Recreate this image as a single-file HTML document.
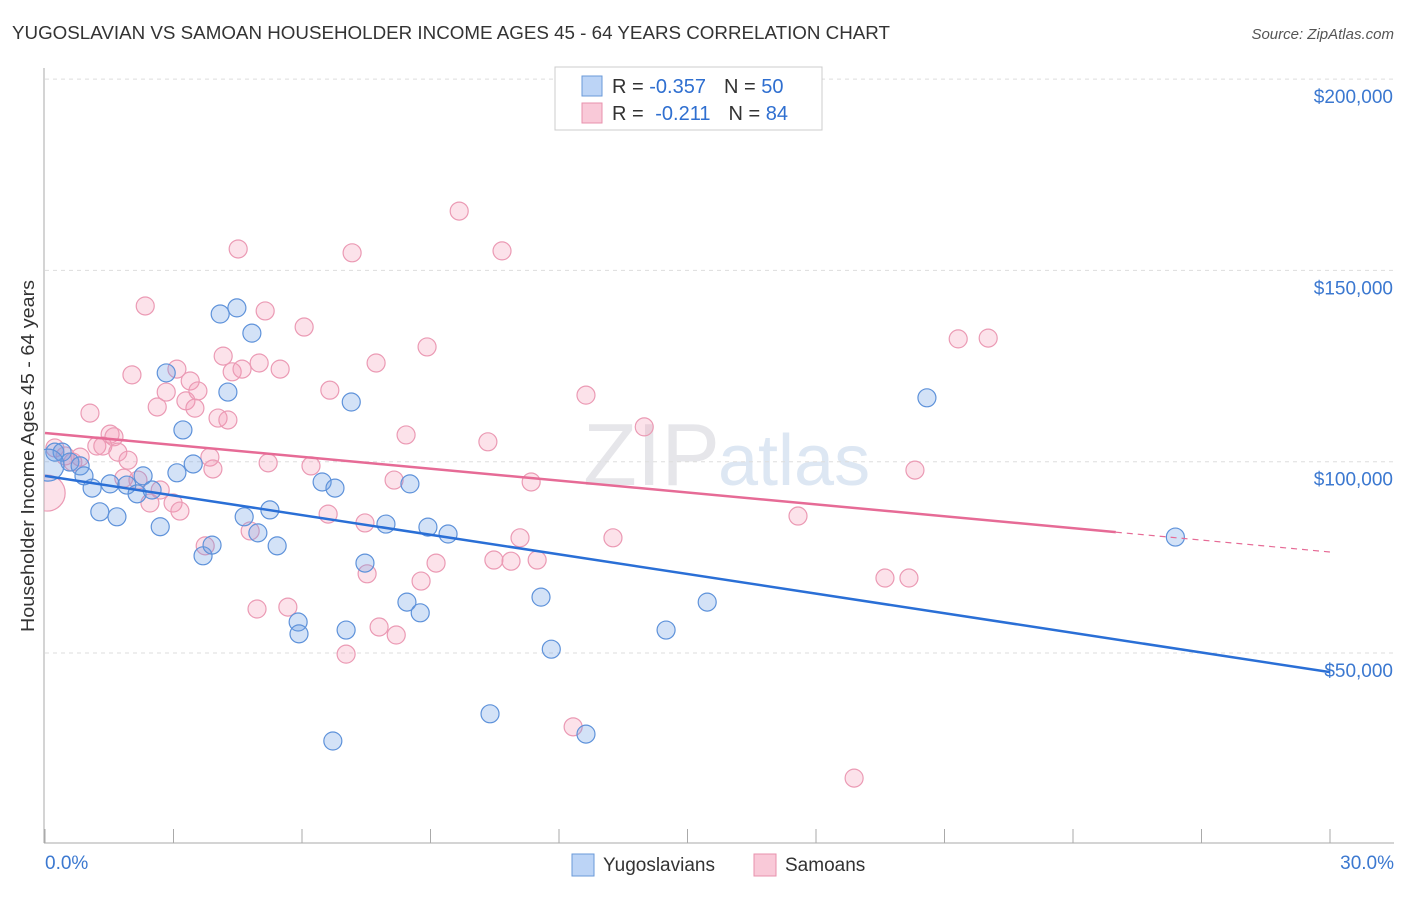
<!DOCTYPE html>
<html><head><meta charset="utf-8"><style>
body{margin:0;background:#fff;font-family:"Liberation Sans",sans-serif;}
svg text{font-family:"Liberation Sans",sans-serif;}
</style></head><body>
<svg id="c" width="1406" height="892">
<defs><clipPath id="pa"><rect x="44" y="60" width="1362" height="783"/></clipPath></defs>
<text x="12" y="39" font-size="18" textLength="878" lengthAdjust="spacingAndGlyphs" fill="#333">YUGOSLAVIAN VS SAMOAN HOUSEHOLDER INCOME AGES 45 - 64 YEARS CORRELATION CHART</text>
<text x="1394" y="39" font-size="15" fill="#555" text-anchor="end" font-style="italic">Source: ZipAtlas.com</text>
<text x="720" y="485" font-size="88" fill="#e6e6ea" text-anchor="end" font-family="Liberation Serif">ZIP</text>
<text x="718" y="485" font-size="72" fill="#dde7f3">atlas</text>
<g id="grid"></g><g id="axes"></g><g id="pts" clip-path="url(#pa)"></g><g id="lines"></g>
<text transform="translate(34,456) rotate(-90)" font-size="18" textLength="352" lengthAdjust="spacingAndGlyphs" fill="#333" text-anchor="middle">Householder Income Ages 45 - 64 years</text>
<g>
<rect x="555" y="67" width="267" height="63" fill="#fff" stroke="#ccc"/>
<rect x="582" y="76" width="20" height="20" fill="#bcd4f6" stroke="#6a9ad8"/>
<rect x="582" y="103" width="20" height="20" fill="#f9c9d8" stroke="#e891ad"/>
<text x="612" y="93" font-size="20" fill="#333">R = <tspan fill="#2f6fd0">-0.357</tspan><tspan dx="18">N = </tspan><tspan fill="#2f6fd0">50</tspan></text>
<text x="612" y="120" font-size="20" fill="#333">R = <tspan dx="6" fill="#2f6fd0">-0.211</tspan><tspan dx="18">N = </tspan><tspan fill="#2f6fd0">84</tspan></text>
</g>
<g>
<rect x="572" y="854" width="22" height="22" fill="#bcd4f6" stroke="#6a9ad8"/>
<text x="603" y="871" font-size="19" fill="#333">Yugoslavians</text>
<rect x="754" y="854" width="22" height="22" fill="#f9c9d8" stroke="#e891ad"/>
<text x="785" y="871" font-size="19" fill="#333">Samoans</text>
</g>
</svg>
<script>
const xTicks=[0,3,6,9,12,15,18,21,24,27,30];
const yTicks=[50000,100000,150000,200000];
const yTickLabels=["$50,000","$100,000","$150,000","$200,000"];
const xEndLabels=["0.0%","30.0%"];
const blueX=[0.23,0.40,0.58,0.82,0.91,1.10,1.28,1.52,1.68,1.91,2.15,2.29,2.50,2.69,2.83,3.08,3.22,3.46,3.69,3.90,4.09,4.27,4.48,4.65,4.83,4.97,5.25,5.42,5.91,5.93,6.47,6.77,7.03,6.72,7.15,7.47,7.96,8.45,8.52,8.76,8.94,9.41,10.39,11.58,11.82,12.63,14.50,15.46,20.59,26.39,0.07];
const blueY=[102.5,102.5,99.9,98.9,96.3,93.1,86.9,94.2,85.6,93.9,91.6,96.3,92.6,83.0,123.2,97.1,108.3,99.4,75.4,78.2,138.6,118.2,140.2,85.6,133.6,81.4,87.4,78.0,58.1,55.0,94.7,93.1,56.0,27.0,115.6,73.5,83.7,63.3,94.2,60.5,82.9,81.1,34.1,64.6,51.0,28.8,56.0,63.3,116.7,80.3,99.1];
const blueR=[9,9,9,9,9,9,9,9,9,9,9,9,9,9,9,9,9,9,9,9,9,9,9,9,9,9,9,9,9,9,9,9,9,9,9,9,9,9,9,9,9,9,9,9,9,9,9,9,9,9,16];
const pinkX=[0.05,0.23,0.47,0.65,0.82,1.05,1.21,1.35,1.52,1.61,1.70,1.84,1.94,2.03,2.17,2.34,2.45,2.62,2.69,2.83,2.99,3.08,3.15,3.29,3.39,3.50,3.57,3.74,3.85,3.92,4.04,4.16,4.27,4.37,4.51,4.60,4.79,4.95,5.00,5.14,5.21,5.49,5.67,6.05,6.21,6.61,6.65,7.03,7.17,7.47,7.52,7.73,7.80,8.15,8.20,8.43,8.78,8.92,9.13,9.67,10.34,10.48,10.67,10.88,11.09,11.35,11.49,12.33,12.63,13.26,13.99,17.58,18.89,19.61,20.17,20.31,21.32,22.02];
const pinkY=[91.8,103.6,101.5,99.9,101.2,112.7,104.1,104.1,107.2,106.5,102.5,95.7,100.4,122.7,95.2,140.7,89.2,114.3,92.6,118.2,89.2,124.2,87.1,115.9,121.1,114.0,118.5,78.0,101.2,98.1,111.4,127.6,110.9,123.5,155.6,124.2,81.9,61.5,125.8,139.4,99.7,124.2,62.0,135.2,98.9,86.3,118.7,49.7,154.6,84.0,70.7,125.8,56.8,95.2,54.7,107.0,68.8,130.0,73.5,165.5,105.2,74.3,155.1,74.0,80.1,94.7,74.3,30.7,117.4,80.1,109.1,85.8,17.3,69.6,69.6,97.8,132.1,132.3];
const pinkR=pinkX.map((_,i)=>i===0?18:9);
const blueLine=[96.3,45.0];
const pinkLine=[107.5,76.4];
const pinkSolidEnd=25.0;
const NS="http://www.w3.org/2000/svg";
const X=v=>45+v/30*1285;
const Y=k=>653-(k*1000-50000)/50000*191.3;
function mk(p,t,a){const e=document.createElementNS(NS,t);for(const k in a)e.setAttribute(k,a[k]);p.appendChild(e);return e;}
const grid=document.getElementById('grid'),axes=document.getElementById('axes'),pts=document.getElementById('pts'),lines=document.getElementById('lines');
yTicks.forEach((v,i)=>{const y=Y(v/1000);
const g=mk(grid,'line',{x1:45,x2:1394,y1:y,y2:y,stroke:'#ddd','stroke-dasharray':'4,4'});


const t=mk(axes,'text',{x:1393,y:y+24,'text-anchor':'end','font-size':19,fill:'#3b78d0'});t.textContent=yTickLabels[i];

});
const al=mk(axes,'line',{x1:44,x2:44,y1:68,y2:843,stroke:'#aaa'});


const bl=mk(axes,'line',{x1:44,x2:1394,y1:843,y2:843,stroke:'#aaa'});


xTicks.forEach(v=>{const tk=mk(axes,'line',{x1:X(v),x2:X(v),y1:829,y2:843,stroke:'#aaa'});

});
const l0=mk(axes,'text',{x:45,y:869,'font-size':19,fill:'#3b78d0'});l0.textContent=xEndLabels[0];


const l1=mk(axes,'text',{x:1394,y:869,'font-size':19,fill:'#3b78d0','text-anchor':'end'});l1.textContent=xEndLabels[1];


pinkX.forEach((v,i)=>{const c=mk(pts,'circle',{cx:X(v),cy:Y(pinkY[i]),r:pinkR[i],fill:'rgba(244,150,180,0.28)',stroke:'#eb9ab4','stroke-width':1.2});

});
blueX.forEach((v,i)=>{const c=mk(pts,'circle',{cx:X(v),cy:Y(blueY[i]),r:blueR[i],fill:'rgba(110,160,230,0.3)',stroke:'#5e92da','stroke-width':1.2});

});
const bL=mk(lines,'line',{x1:X(0),y1:Y(blueLine[0]),x2:X(30),y2:Y(blueLine[1]),stroke:'#2a6fd6','stroke-width':2.5});


const py=x=>pinkLine[0]+(pinkLine[1]-pinkLine[0])*x/30;
const pL=mk(lines,'line',{x1:X(0),y1:Y(py(0)),x2:X(pinkSolidEnd),y2:Y(py(pinkSolidEnd)),stroke:'#e66b96','stroke-width':2.5});


const pD=mk(lines,'line',{x1:X(pinkSolidEnd),y1:Y(py(pinkSolidEnd)),x2:X(30),y2:Y(py(30)),stroke:'#e66b96','stroke-width':1.2,'stroke-dasharray':'6,5'});


</script>
</body></html>
